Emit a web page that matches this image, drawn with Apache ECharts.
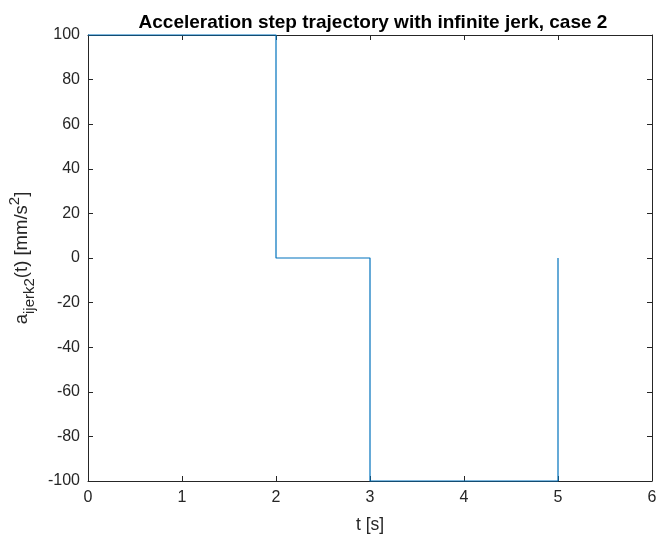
<!DOCTYPE html>
<html>
<head>
<meta charset="utf-8">
<script src="https://cdn.jsdelivr.net/npm/echarts@6/dist/echarts.min.js"></script>
<style>
  html, body { margin: 0; padding: 0; background: #fff; }
  #chart { width: 659px; height: 535px; }
</style>
</head>
<body>
<div id="chart"></div>
<script>
// Step profile of acceleration: breakpoints in time and the value held there
const timeS = [0, 2, 2, 3, 3, 5, 5];
const accel = [100, 100, 0, 0, -100, -100, 0];
const xTicks = [0, 1, 2, 3, 4, 5, 6];
const yTicks = [-100, -80, -60, -40, -20, 0, 20, 40, 60, 80, 100];

const FONT = '"Liberation Sans", Arial, Helvetica, sans-serif';
const AX = '#262626';

const points = timeS.map((t, i) => [t, accel[i]]);

const chart = echarts.init(document.getElementById('chart'), null, { renderer: 'canvas' });

const baseX = {
  type: 'value', min: xTicks[0], max: xTicks[xTicks.length - 1], interval: 1,
  axisLine: { show: true, onZero: false, lineStyle: { color: AX, width: 1 } },
  axisTick: { show: true, inside: true, length: 5, lineStyle: { color: AX } },
  splitLine: { show: false }
};
const baseY = {
  type: 'value', min: yTicks[0], max: yTicks[yTicks.length - 1], interval: 20,
  axisLine: { show: true, onZero: false, lineStyle: { color: AX, width: 1 } },
  axisTick: { show: true, inside: true, length: 5, lineStyle: { color: AX } },
  splitLine: { show: false }
};

chart.setOption({
  animation: false,
  backgroundColor: '#fff',
  title: {
    text: 'Acceleration step trajectory with infinite jerk, case 2',
    left: 368, top: 8, textAlign: 'center',
    textStyle: { fontFamily: FONT, fontSize: 19, fontWeight: 'bold', color: '#000' }
  },
  grid: {
    left: 88, top: 35, width: 564, height: 446,
    containLabel: false, outerBoundsMode: 'none'
  },
  xAxis: [
    Object.assign({}, baseX, {
      position: 'bottom',
      axisLabel: { show: true, color: AX, fontFamily: FONT, fontSize: 16, margin: 9 },
      name: 't [s]', nameLocation: 'middle', nameGap: 35,
      nameTextStyle: { color: AX, fontFamily: FONT, fontSize: 17.5 }
    }),
    Object.assign({}, baseX, { position: 'top', axisLabel: { show: false } })
  ],
  yAxis: [
    Object.assign({}, baseY, {
      position: 'left',
      axisLabel: { show: true, color: AX, fontFamily: FONT, fontSize: 16, margin: 8 },
      name: '{b|a}{s|ijerk2}{b|(t) [mm/s}{p|2}{b|]}',
      nameLocation: 'middle', nameGap: 51, nameRotate: 90,
      nameTextStyle: {
        color: AX, fontFamily: FONT, fontSize: 18.5,
        rich: {
          b: { fontFamily: FONT, fontSize: 18.5, color: AX, lineHeight: 30, verticalAlign: 'middle' },
          s: { fontFamily: FONT, fontSize: 15, color: AX, lineHeight: 30, padding: [12, 0, 0, 0], verticalAlign: 'bottom' },
          p: { fontFamily: FONT, fontSize: 15, color: AX, lineHeight: 30, padding: [0, 0, 12, 0], verticalAlign: 'top' }
        }
      }
    }),
    Object.assign({}, baseY, { position: 'right', axisLabel: { show: false } })
  ],
  series: [{
    type: 'line',
    data: points,
    xAxisIndex: 0, yAxisIndex: 0,
    showSymbol: false, symbol: 'none',
    lineStyle: { color: '#0072BD', width: 1.2 },
    clip: false
  }]
});
</script>
</body>
</html>
